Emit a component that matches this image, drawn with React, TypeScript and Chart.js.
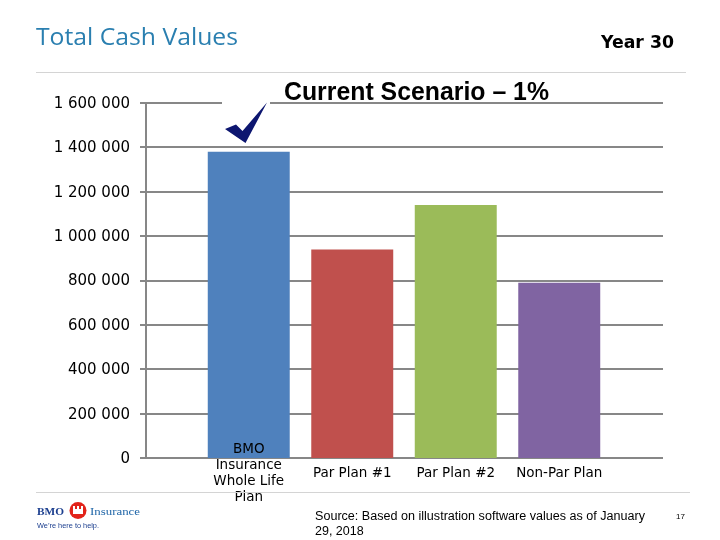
import React, { useEffect, useRef } from "react";
import { Chart, registerables } from "chart.js";

Chart.register(...registerables);

const categories: string[][] = [
  ["BMO", "Insurance", "Whole Life", "Plan"],
  ["Par Plan #1"],
  ["Par Plan #2"],
  ["Non-Par Plan"],
];
const cashValues: number[] = [1380000, 940000, 1140000, 790000];
const barColors: string[] = ["#4f81bd", "#c0504d", "#9bbb59", "#8064a2"];
const yMin = 0;
const yMax = 1600000;
const yStep = 200000;
const titleText = "Total Cash Values";
const yearText = "Year 30";
const scenarioText = "Current Scenario \u2013 1%";
const sourceLines = ["Source: Based on illustration software values as of January", "29, 2018"];
const pageNumber = "17";

function fmt(v: number): string {
  return String(v).replace(/\B(?=(\d{3})+(?!\d))/g, " ");
}

function fitText(ctx: CanvasRenderingContext2D, text: string, x: number, y: number, width: number) {
  const w = ctx.measureText(text).width;
  const s = width / w;
  ctx.save();
  ctx.translate(x, y);
  ctx.scale(s, 1);
  ctx.textAlign = "left";
  ctx.fillText(text, 0, 0);
  ctx.restore();
}

const decorPlugin = {
  id: "decor",
  beforeDatasetsDraw(chart: any) {
    const ctx: CanvasRenderingContext2D = chart.ctx;
    const y = chart.scales.y;
    ctx.save();
    ctx.strokeStyle = "#878787";
    ctx.lineWidth = 2;
    for (let v = yMin; v <= yMax; v += yStep) {
      const py = Math.round(y.getPixelForValue(v));
      ctx.beginPath();
      ctx.moveTo(140, py);
      ctx.lineTo(663, py);
      ctx.stroke();
    }
    ctx.beginPath();
    ctx.moveTo(146, Math.round(y.getPixelForValue(yMax)));
    ctx.lineTo(146, Math.round(y.getPixelForValue(yMin)) + 1);
    ctx.stroke();
    // white box behind checkmark
    ctx.fillStyle = "#ffffff";
    ctx.fillRect(222, Math.round(y.getPixelForValue(yMax)) - 3, 48, 6);
    // tick labels
    ctx.fillStyle = "#000000";
    ctx.font = "15px 'DejaVu Sans'";
    ctx.textAlign = "right";
    ctx.textBaseline = "middle";
    for (let v = yMin; v <= yMax; v += yStep) {
      const py = y.getPixelForValue(v);
      ctx.fillText(fmt(v), 130, py + 1);
    }
    ctx.restore();
  },
  afterDraw(chart: any) {
    const ctx: CanvasRenderingContext2D = chart.ctx;
    const x = chart.scales.x;
    ctx.save();
    // x labels
    ctx.fillStyle = "#000000";
    ctx.font = "13.5px 'DejaVu Sans'";
    ctx.textAlign = "center";
    ctx.textBaseline = "middle";
    const lh = 16.3;
    const centerY = 473.5;
    categories.forEach((lines, i) => {
      const px = x.getPixelForValue(i);
      const start = centerY - ((lines.length - 1) * lh) / 2;
      lines.forEach((ln, j) => ctx.fillText(ln, px, start + j * lh));
    });

    // checkmark
    ctx.fillStyle = "#0d1670";
    ctx.beginPath();
    ctx.moveTo(225, 129);
    ctx.lineTo(236, 124.5);
    ctx.lineTo(242.5, 131);
    ctx.lineTo(267, 102.5);
    ctx.lineTo(245.5, 143);
    ctx.closePath();
    ctx.fill();

    // title texts
    ctx.textAlign = "left";
    ctx.textBaseline = "alphabetic";
    ctx.fillStyle = "#2a7fb0";
    ctx.font = "23px 'Open Sans'";
    fitText(ctx, titleText, 36, 45, 202);
    ctx.fillStyle = "#000000";
    ctx.font = "bold 17px 'DejaVu Sans'";
    fitText(ctx, yearText, 601, 48, 73);
    ctx.font = "bold 25px 'Liberation Sans'";
    fitText(ctx, scenarioText, 284, 100, 265);

    // separators
    ctx.strokeStyle = "#d4d4d4";
    ctx.lineWidth = 1;
    ctx.beginPath();
    ctx.moveTo(36, 72.5);
    ctx.lineTo(686, 72.5);
    ctx.moveTo(36, 492.5);
    ctx.lineTo(690, 492.5);
    ctx.stroke();

    // source
    ctx.fillStyle = "#000000";
    ctx.font = "12.5px 'Liberation Sans'";
    fitText(ctx, sourceLines[0], 315, 520, 330);
    ctx.textAlign = "left";
    ctx.fillText(sourceLines[1], 315, 535);
    ctx.font = "8px 'Liberation Sans'";
    ctx.fillText(pageNumber, 676, 519);

    // logo
    ctx.fillStyle = "#1c3f8f";
    ctx.font = "bold 11px 'Liberation Serif'";
    fitText(ctx, "BMO", 37, 515, 27);
    ctx.fillStyle = "#e2231a";
    ctx.beginPath();
    ctx.arc(78, 510.5, 8.5, 0, Math.PI * 2);
    ctx.fill();
    ctx.fillStyle = "#ffffff";
    ctx.fillRect(73, 509, 10, 5);
    ctx.fillRect(73, 506, 2, 3);
    ctx.fillRect(77, 506, 2, 3);
    ctx.fillRect(81, 506, 2, 3);
    ctx.fillStyle = "#2066a8";
    ctx.font = "11px 'Liberation Serif'";
    fitText(ctx, "Insurance", 90, 515, 50);
    ctx.fillStyle = "#1c3f8f";
    ctx.font = "7px 'Liberation Sans'";
    fitText(ctx, "We\u2019re here to help.", 37, 528, 62);
    ctx.restore();
  },
};

export default function App() {
  const ref = useRef<HTMLCanvasElement | null>(null);
  useEffect(() => {
    if (!ref.current) return;
    const chart = new Chart(ref.current, {
      type: "bar",
      data: {
        labels: categories.map((c) => c.join(" ")),
        datasets: [
          {
            data: cashValues,
            backgroundColor: barColors,
            borderWidth: 0,
            categoryPercentage: 1,
            barPercentage: 0.792,
          },
        ],
      },
      options: {
        animation: false,
        responsive: false,
        devicePixelRatio: 1,
        layout: { padding: { left: 197, right: 109, top: 103, bottom: 82 } },
        plugins: { legend: { display: false }, tooltip: { enabled: false }, title: { display: false } },
        scales: {
          x: { display: false },
          y: { display: false, min: yMin, max: yMax, ticks: { stepSize: yStep } },
        },
      },
      plugins: [decorPlugin],
    });
    return () => chart.destroy();
  }, []);
  return (
    <div style={{ position: "fixed", left: 0, top: 0, width: 720, height: 540, background: "#ffffff" }}>
      <canvas ref={ref} width={720} height={540} style={{ width: 720, height: 540, display: "block" }} />
    </div>
  );
}
